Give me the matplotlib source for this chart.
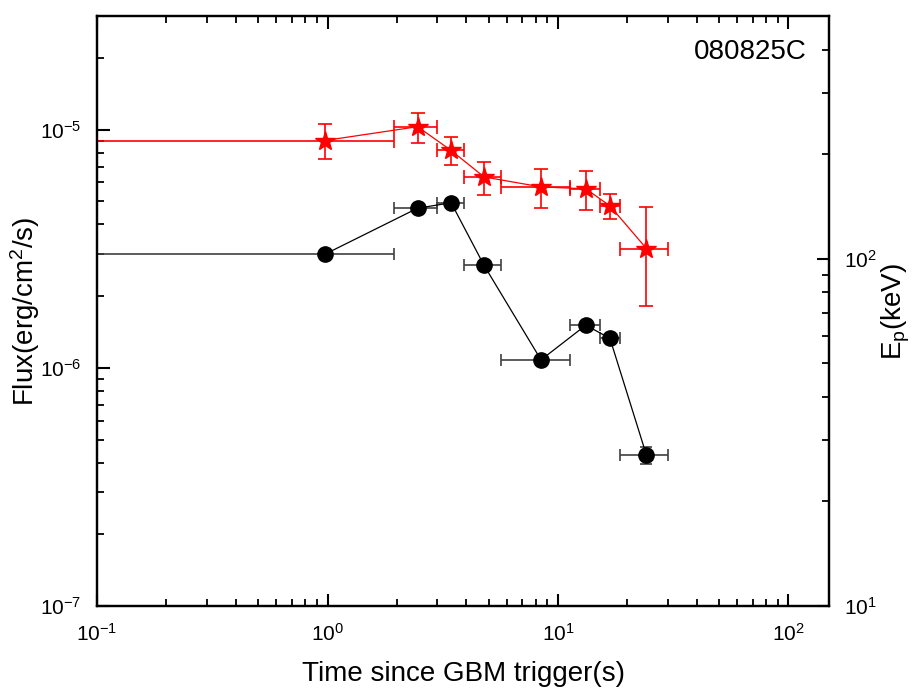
import matplotlib
matplotlib.use('Agg')
import matplotlib.pyplot as plt
from matplotlib.ticker import LogLocator, NullFormatter

plt.rcParams['font.family'] = ['Liberation Sans', 'DejaVu Sans']
plt.rcParams['mathtext.fontset'] = 'custom'
plt.rcParams['mathtext.rm'] = 'Liberation Sans'
plt.rcParams['mathtext.it'] = 'Liberation Sans:italic'
plt.rcParams['mathtext.default'] = 'regular'
plt.rcParams['axes.unicode_minus'] = False

# time bins (s)
t_mid = [0.975, 2.46, 3.44, 4.78, 8.44, 13.2, 16.8, 24.2]
t_lo = [0.01, 1.95, 2.98, 3.91, 5.66, 11.3, 15.2, 18.5]
t_hi = [1.95, 2.98, 3.91, 5.66, 11.3, 15.2, 18.5, 29.9]

# flux (erg/cm2/s)
flux = [3.0e-6, 4.68e-6, 4.93e-6, 2.69e-6, 1.08e-6, 1.51e-6, 1.33e-6, 4.3e-7]
flux_err = [0.05e-6, 0.08e-6, 0.08e-6, 0.05e-6, 0.02e-6, 0.03e-6, 0.03e-6, 0.035e-6]

# peak energy (keV)
ep = [219, 240, 205, 172, 161, 159, 142, 107]
ep_up = [245, 263, 224.5, 190.5, 181, 179.5, 154, 141]
ep_low = [194, 216, 186, 153, 140, 138, 130, 73.3]

grb_name = '080825C'

xerr = [[m - lo for m, lo in zip(t_mid, t_lo)], [hi - m for m, hi in zip(t_mid, t_hi)]]
ep_err = [[e - lo for e, lo in zip(ep, ep_low)], [up - e for e, up in zip(ep, ep_up)]]

fig = plt.figure(figsize=(9.17, 6.95), dpi=100)
ax = fig.add_axes([0.1058, 0.128, 0.7983, 0.849])

ax.errorbar(t_mid, flux, xerr=xerr, yerr=flux_err, fmt='o-', color='black',
            ecolor='#404040', elinewidth=1.2, capsize=4, capthick=1.2,
            markersize=11, linewidth=0.9)
ax.set_xscale('log')
ax.set_yscale('log')
ax.set_xlim(0.1, 150)
ax.set_ylim(1e-7, 3.0e-5)
ax.set_xlabel('Time since GBM trigger(s)', fontsize=20, labelpad=12)
ax.set_ylabel('Flux(erg/cm$^2$/s)', fontsize=20, labelpad=-1)

ax2 = ax.twinx()
ax2.errorbar(t_mid, ep, xerr=xerr, yerr=ep_err, fmt='*-', color='red',
             ecolor='red', elinewidth=1.2, capsize=5, capthick=1.2,
             markersize=15, linewidth=0.9)
ax2.set_yscale('log')
ax2.set_ylim(10, 500)
ax2.set_ylabel('E$_p$(keV)', fontsize=20, labelpad=2)

for a in (ax, ax2):
    for s in a.spines.values():
        s.set_linewidth(1.6)
    a.yaxis.set_major_locator(LogLocator(base=10, numticks=10))
    a.yaxis.set_minor_locator(LogLocator(base=10, subs=range(2, 10), numticks=10))
    a.yaxis.set_minor_formatter(NullFormatter())
    a.tick_params(which='major', direction='in', length=9, width=1.5, labelsize=15, pad=11)
    a.tick_params(which='minor', direction='in', length=5, width=1.3)

ax.xaxis.set_minor_locator(LogLocator(base=10, subs=range(2, 10), numticks=10))
ax.xaxis.set_minor_formatter(NullFormatter())
ax.tick_params(which='both', top=True)
ax.tick_params(axis='x', which='major', pad=12)

ax.text(0.970, 0.939, grb_name, transform=ax.transAxes, fontsize=20,
        ha='right', va='center')

fig.savefig('out.png', dpi=100)
